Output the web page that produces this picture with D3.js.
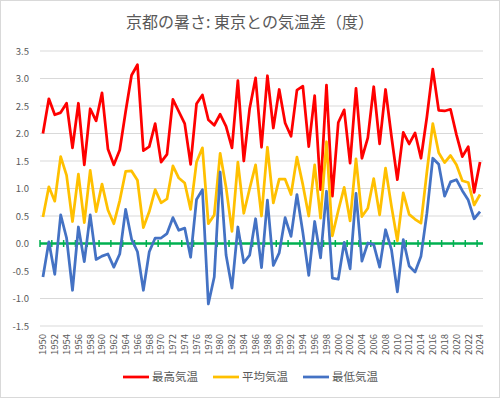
<!DOCTYPE html>
<html>
<head>
<meta charset="utf-8">
<script src="https://cdn.jsdelivr.net/npm/d3@7"></script>
<style>
  body { margin: 0; background: #fff; }
  text { font-family: "Noto Sans CJK JP", "Noto Sans", sans-serif; }
</style>
</head>
<body>
<div class="graph"></div>
<script>
var years = d3.range(1950, 2025);

var maxTemp = [2.00, 2.63, 2.34, 2.38, 2.55, 1.74, 2.55, 1.43, 2.45, 2.23,
  2.74, 1.72, 1.43, 1.70, 2.40, 3.06, 3.25, 1.69, 1.76, 2.18,
  1.48, 1.62, 2.62, 2.40, 2.18, 1.44, 2.54, 2.70, 2.25, 2.15,
  2.35, 2.13, 1.74, 2.96, 1.50, 2.46, 3.01, 1.75, 3.05, 2.10,
  2.80, 2.19, 1.95, 2.79, 2.86, 1.76, 2.69, 0.98, 2.88, 0.86,
  2.20, 2.43, 1.46, 2.82, 1.55, 1.92, 2.85, 1.81, 2.80, 1.95,
  1.16, 2.02, 1.81, 2.01, 1.55, 2.30, 3.17, 2.42, 2.41, 2.44,
  1.98, 1.58, 1.76, 0.93, 1.48];

var avgTemp = [0.48, 1.03, 0.77, 1.58, 1.24, 0.40, 1.26, 0.38, 1.33, 0.58,
  1.08, 0.61, 0.36, 0.78, 1.31, 1.32, 1.15, 0.29, 0.58, 0.98,
  0.74, 0.81, 1.41, 1.19, 1.10, 0.62, 1.48, 1.74, 0.36, 0.52,
  1.64, 1.02, 0.22, 1.48, 0.55, 1.00, 1.43, 0.50, 1.75, 0.74,
  1.17, 1.17, 0.89, 1.57, 1.07, 0.50, 1.43, 0.46, 1.85, 0.14,
  0.60, 1.02, 0.41, 1.54, 0.49, 0.64, 1.18, 0.52, 1.37, 0.68,
  0.05, 0.92, 0.53, 0.44, 0.37, 1.30, 2.18, 1.65, 1.47, 1.60,
  1.43, 1.14, 1.11, 0.70, 0.89];

var minTemp = [-0.61, 0.03, -0.56, 0.52, 0.10, -0.85, 0.30, -0.33, 0.52, -0.29,
  -0.23, -0.19, -0.43, -0.19, 0.62, 0.08, -0.15, -0.85, -0.15, 0.10,
  0.10, 0.18, 0.47, 0.24, 0.28, -0.25, 0.80, 0.98, -1.10, -0.61,
  1.30, -0.21, -0.81, 0.30, -0.35, -0.21, 0.45, -0.44, 0.79, -0.40,
  -0.17, 0.47, 0.13, 0.89, 0.20, -0.58, 0.40, -0.26, 0.95, -0.63,
  -0.65, 0.02, -0.46, 0.91, -0.32, 0.01, -0.02, -0.43, 0.25, -0.11,
  -0.88, 0.07, -0.41, -0.52, -0.23, 0.55, 1.55, 1.44, 0.86, 1.12,
  1.16, 0.96, 0.79, 0.45, 0.58];

var seriesNames = ['最高気温', '平均気温', '最低気温'];
var seriesColors = ['#ff0000', '#ffc000', '#4472c4'];
var yTicks = [-1.5, -1.0, -0.5, 0.0, 0.5, 1.0, 1.5, 2.0, 2.5, 3.0, 3.5];
var title = '京都の暑さ: 東京との気温差（度）';

(() => {
var width = 500,
    height = 398,
    margin = {top: 51, right: 17, bottom: 72, left: 40};

var svg = d3.select('div.graph')
    .append('svg')
        .attr('width', width)
        .attr('height', height);

svg.append('rect')
    .attr('x', 0.5).attr('y', 0.5)
    .attr('width', width - 1).attr('height', height - 1)
    .attr('fill', '#fff')
    .attr('stroke', '#d9d9d9');

var x = d3.scaleBand()
    .domain(years)
    .range([margin.left, width - margin.right])
    .padding(0);

var y = d3.scaleLinear()
    .domain([-1.5, 3.5])
    .range([height - margin.bottom, margin.top]);

var cx = (d) => x(d) + x.bandwidth() / 2;

svg.append('text')
    .attr('x', width / 2)
    .attr('y', 28)
    .attr('text-anchor', 'middle')
    .attr('fill', '#595959')
    .style('font-size', '16px')
    .text(title);

// grid + y labels
svg.append('g')
    .selectAll('line')
    .data(yTicks)
    .enter()
    .append('line')
        .attr('x1', margin.left)
        .attr('x2', width - margin.right)
        .attr('y1', (d) => y(d))
        .attr('y2', (d) => y(d))
        .attr('stroke', '#d9d9d9')
        .attr('stroke-width', 1);

svg.append('g')
    .selectAll('text')
    .data(yTicks)
    .enter()
    .append('text')
        .attr('x', 29)
        .attr('y', (d) => y(d) + 3.5)
        .attr('text-anchor', 'end')
        .attr('fill', '#595959')
        .style('font-size', '9.5px')
        .text((d) => d.toFixed(1));

// green zero axis with cross ticks every 2 categories
var zero = svg.append('g');
zero.append('line')
    .attr('x1', margin.left)
    .attr('x2', width - margin.right)
    .attr('y1', y(0))
    .attr('y2', y(0))
    .attr('stroke', '#00b050')
    .attr('stroke-width', 2.5);
zero.selectAll('line.tk')
    .data(years.filter((d, i) => i % 2 === 0))
    .enter()
    .append('line')
        .attr('class', 'tk')
        .attr('x1', (d) => x(d))
        .attr('x2', (d) => x(d))
        .attr('y1', y(0) - 3.5)
        .attr('y2', y(0) + 3.5)
        .attr('stroke', '#00b050')
        .attr('stroke-width', 1.5);

// year labels
svg.append('g')
    .selectAll('text')
    .data(years.filter((d, i) => i % 2 === 0))
    .enter()
    .append('text')
        .attr('transform', (d) => 'translate(' + (cx(d) + 3.3) + ',' + (height - margin.bottom + 8) + ') rotate(-90)')
        .attr('text-anchor', 'end')
        .attr('fill', '#595959')
        .style('font-size', '9.5px')
        .text((d) => d);

var line = d3.line()
    .x((d, i) => cx(years[i]))
    .y((d) => y(d));

svg.append('g')
    .selectAll('path')
    .data([maxTemp, avgTemp, minTemp])
    .enter()
    .append('path')
        .attr('fill', 'none')
        .attr('stroke', (d, i) => seriesColors[i])
        .attr('stroke-width', 2.75)
        .attr('stroke-linejoin', 'round')
        .attr('d', line);

// legend
var legendX = [123, 213, 303];
var legend = svg.append('g')
    .selectAll('g')
    .data(seriesNames)
    .enter()
    .append('g')
        .attr('transform', (d, i) => 'translate(' + legendX[i] + ',377)');

legend.append('line')
    .attr('x1', 0).attr('x2', 26)
    .attr('stroke', (d, i) => seriesColors[i])
    .attr('stroke-width', 2.75);

legend.append('text')
    .attr('x', 29)
    .attr('y', 4)
    .attr('fill', '#595959')
    .style('font-size', '11.5px')
    .text((d) => d);
})();
</script>
</body>
</html>
